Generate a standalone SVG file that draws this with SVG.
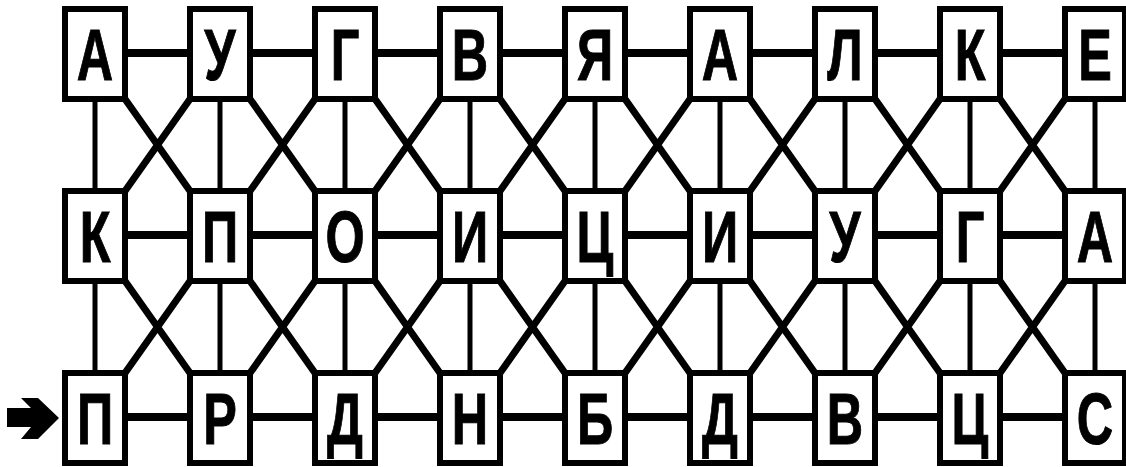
<svg xmlns="http://www.w3.org/2000/svg" width="1126" height="467" viewBox="0 0 1126 467">
<style>
.h{stroke:#000;stroke-width:8;fill:none}
.v{stroke:#000;stroke-width:5;fill:none}
.d{stroke:#000;stroke-width:7;fill:none}
.box{fill:#fff;stroke:#000;stroke-width:6}
.t{font-family:"Liberation Sans",Arial,sans-serif;font-weight:bold;font-size:72px;text-anchor:middle;fill:#000;stroke:#000;stroke-width:1}
</style>
<defs>
<rect id="b" class="box" x="-30" y="-45" width="60" height="90"/>
</defs>
<g id="connectors">
<line class="h" x1="95" y1="53" x2="1095" y2="53"/>
<line class="h" x1="95" y1="235" x2="1095" y2="235"/>
<line class="h" x1="95" y1="417" x2="1095" y2="417"/>
<g id="verticals">
<line class="v" x1="95" y1="54" x2="95" y2="418"/>
<line class="v" x1="220" y1="54" x2="220" y2="418"/>
<line class="v" x1="345" y1="54" x2="345" y2="418"/>
<line class="v" x1="470" y1="54" x2="470" y2="418"/>
<line class="v" x1="595" y1="54" x2="595" y2="418"/>
<line class="v" x1="720" y1="54" x2="720" y2="418"/>
<line class="v" x1="845" y1="54" x2="845" y2="418"/>
<line class="v" x1="970" y1="54" x2="970" y2="418"/>
<line class="v" x1="1095" y1="54" x2="1095" y2="418"/>
</g>
<g id="diagonals">
<path class="d" d="M125,99L190,191M190,99L125,191M250,99L315,191M315,99L250,191M375,99L440,191M440,99L375,191M500,99L565,191M565,99L500,191M625,99L690,191M690,99L625,191M750,99L815,191M815,99L750,191M875,99L940,191M940,99L875,191M1000,99L1065,191M1065,99L1000,191"/>
<path class="d" d="M125,281L190,373M190,281L125,373M250,281L315,373M315,281L250,373M375,281L440,373M440,281L375,373M500,281L565,373M565,281L500,373M625,281L690,373M690,281L625,373M750,281L815,373M815,281L750,373M875,281L940,373M940,281L875,373M1000,281L1065,373M1065,281L1000,373"/>
</g>
</g>
<g id="start-arrow">
<polygon points="7,408 31,408 21,398 38,398 59,418 38,439 21,439 31,427 7,427" fill="#000"/>
</g>
<g id="r1c1" transform="translate(95,54)"><use href="#b"/><text class="t" transform="translate(0,26) scale(0.7,1)">А</text></g>
<g id="r1c2" transform="translate(220,54)"><use href="#b"/><text class="t" transform="translate(0,26) scale(0.7,1)">У</text></g>
<g id="r1c3" transform="translate(345,54)"><use href="#b"/><text class="t" transform="translate(0,26) scale(0.7,1)">Г</text></g>
<g id="r1c4" transform="translate(470,54)"><use href="#b"/><text class="t" transform="translate(0,26) scale(0.7,1)">В</text></g>
<g id="r1c5" transform="translate(595,54)"><use href="#b"/><text class="t" transform="translate(0,26) scale(0.7,1)">Я</text></g>
<g id="r1c6" transform="translate(720,54)"><use href="#b"/><text class="t" transform="translate(0,26) scale(0.7,1)">А</text></g>
<g id="r1c7" transform="translate(845,54)"><use href="#b"/><text class="t" transform="translate(0,26) scale(0.7,1)">Л</text></g>
<g id="r1c8" transform="translate(970,54)"><use href="#b"/><text class="t" transform="translate(0,26) scale(0.7,1)">К</text></g>
<g id="r1c9" transform="translate(1095,54)"><use href="#b"/><text class="t" transform="translate(0,26) scale(0.7,1)">Е</text></g>
<g id="r2c1" transform="translate(95,236)"><use href="#b"/><text class="t" transform="translate(0,26) scale(0.7,1)">К</text></g>
<g id="r2c2" transform="translate(220,236)"><use href="#b"/><text class="t" transform="translate(0,26) scale(0.7,1)">П</text></g>
<g id="r2c3" transform="translate(345,236)"><use href="#b"/><text class="t" transform="translate(0,26) scale(0.7,1)">О</text></g>
<g id="r2c4" transform="translate(470,236)"><use href="#b"/><text class="t" transform="translate(0,26) scale(0.7,1)">И</text></g>
<g id="r2c5" transform="translate(595,236)"><use href="#b"/><text class="t" transform="translate(0,26) scale(0.7,1)">Ц</text></g>
<g id="r2c6" transform="translate(720,236)"><use href="#b"/><text class="t" transform="translate(0,26) scale(0.7,1)">И</text></g>
<g id="r2c7" transform="translate(845,236)"><use href="#b"/><text class="t" transform="translate(0,26) scale(0.7,1)">У</text></g>
<g id="r2c8" transform="translate(970,236)"><use href="#b"/><text class="t" transform="translate(0,26) scale(0.7,1)">Г</text></g>
<g id="r2c9" transform="translate(1095,236)"><use href="#b"/><text class="t" transform="translate(0,26) scale(0.7,1)">А</text></g>
<g id="r3c1" transform="translate(95,418)"><use href="#b"/><text class="t" transform="translate(0,26) scale(0.7,1)">П</text></g>
<g id="r3c2" transform="translate(220,418)"><use href="#b"/><text class="t" transform="translate(0,26) scale(0.7,1)">Р</text></g>
<g id="r3c3" transform="translate(345,418)"><use href="#b"/><text class="t" transform="translate(0,26) scale(0.7,1)">Д</text></g>
<g id="r3c4" transform="translate(470,418)"><use href="#b"/><text class="t" transform="translate(0,26) scale(0.7,1)">Н</text></g>
<g id="r3c5" transform="translate(595,418)"><use href="#b"/><text class="t" transform="translate(0,26) scale(0.7,1)">Б</text></g>
<g id="r3c6" transform="translate(720,418)"><use href="#b"/><text class="t" transform="translate(0,26) scale(0.7,1)">Д</text></g>
<g id="r3c7" transform="translate(845,418)"><use href="#b"/><text class="t" transform="translate(0,26) scale(0.7,1)">В</text></g>
<g id="r3c8" transform="translate(970,418)"><use href="#b"/><text class="t" transform="translate(0,26) scale(0.7,1)">Ц</text></g>
<g id="r3c9" transform="translate(1095,418)"><use href="#b"/><text class="t" transform="translate(0,26) scale(0.7,1)">С</text></g>
</svg>
